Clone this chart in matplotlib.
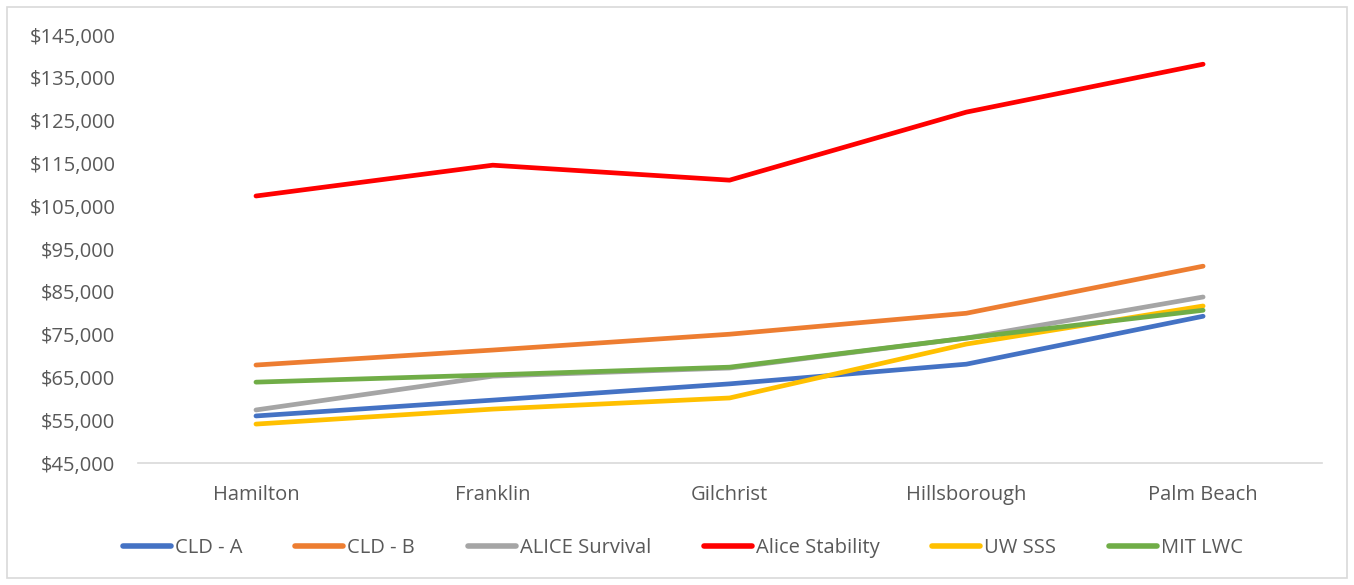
import matplotlib.pyplot as plt
from matplotlib.patches import Rectangle
from matplotlib.ticker import FuncFormatter

counties = ['Hamilton', 'Franklin', 'Gilchrist', 'Hillsborough', 'Palm Beach']

cld_a = [56000, 59700, 63500, 68100, 79300]
cld_b = [67900, 71400, 75100, 80000, 91000]
alice_survival = [57400, 65300, 67200, 74200, 83800]
alice_stability = [107400, 114600, 111100, 127000, 138200]
uw_sss = [54100, 57600, 60200, 72800, 81700]
mit_lwc = [63900, 65600, 67400, 74200, 80700]

series = [
    ('CLD - A', cld_a, '#4472C4'),
    ('CLD - B', cld_b, '#ED7D31'),
    ('ALICE Survival', alice_survival, '#A5A5A5'),
    ('Alice Stability', alice_stability, '#FF0000'),
    ('UW SSS', uw_sss, '#FFC000'),
    ('MIT LWC', mit_lwc, '#70AD47'),
]

plt.rcParams['font.family'] = ['Open Sans', 'DejaVu Sans']

fig = plt.figure(figsize=(13.54, 5.85), dpi=100)
ax = fig.add_axes([0.1016, 0.2085, 0.8744, 0.7315])

x = range(len(counties))
for name, vals, color in series:
    ax.plot(x, vals, color=color, linewidth=3.4, solid_capstyle='round',
            solid_joinstyle='round', label=name)

ax.set_xlim(-0.5, len(counties) - 0.5)
ax.set_ylim(45000, 145000)
ax.set_yticks(range(45000, 145001, 10000))
ax.yaxis.set_major_formatter(FuncFormatter(lambda v, p: f'${v:,.0f}'))
ax.set_xticks(list(x))
ax.set_xticklabels(counties)

ax.tick_params(axis='both', length=0, labelsize=14.5, colors='#595959')
ax.tick_params(axis='x', pad=16)
ax.tick_params(axis='y', pad=16)
for side in ['top', 'right', 'left']:
    ax.spines[side].set_visible(False)
ax.spines['bottom'].set_color('#D9D9D9')
ax.spines['bottom'].set_linewidth(1.2)

legend = fig.legend(loc='center', bbox_to_anchor=(0.5044, 0.063), ncol=6, frameon=False,
                    fontsize=14.5, handlelength=2.4, columnspacing=2.6, handletextpad=0.2)
for h in legend.legend_handles:
    h.set_linewidth(4)
for t in legend.get_texts():
    t.set_color('#595959')

# light border around the whole chart
fig.patches.append(Rectangle((0.005, 0.012), 0.99, 0.976, transform=fig.transFigure,
                             fill=False, edgecolor='#D9D9D9', linewidth=1.2))

fig.savefig('out.png', dpi=100)
